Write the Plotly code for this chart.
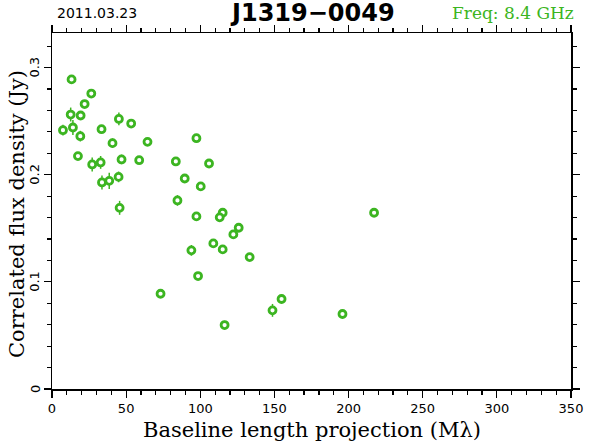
import plotly.graph_objects as go

green = "#3cb521"

baseline = [13.2, 26.5, 22.0, 12.6, 19.3, 7.4, 14.1, 19.1, 33.4, 45.1, 40.8, 53.4,
            17.5, 27.1, 32.8, 46.9, 33.7, 38.6, 44.9, 45.6, 64.4, 97.4, 58.8, 83.5,
            89.5, 100.3, 105.9, 84.6, 97.4, 115.1, 113.1, 125.9, 122.3, 108.8, 94.0,
            115.1, 133.3, 98.5, 73.2, 116.4, 217.2, 154.8, 148.7, 195.9]
flux = [0.289, 0.2758, 0.266, 0.2562, 0.2553, 0.2416, 0.2441, 0.236, 0.2425, 0.2521,
        0.2295, 0.2478, 0.2174, 0.2096, 0.2115, 0.2143, 0.1928, 0.1943, 0.198, 0.1691,
        0.2307, 0.2341, 0.2136, 0.2124, 0.1965, 0.1891, 0.2105, 0.176, 0.1611, 0.1645,
        0.1602, 0.1505, 0.1443, 0.1359, 0.1294, 0.1303, 0.1231, 0.1054, 0.0889, 0.0597,
        0.1645, 0.0840, 0.0734, 0.070]
flux_err = [0.003, 0.003, 0.003, 0.0065, 0.004, 0.005, 0.007, 0.005, 0.003, 0.006,
            0.0045, 0.003, 0.003, 0.0065, 0.006, 0.0045, 0.0065, 0.0075, 0.005, 0.0065,
            0.003, 0.004, 0.003, 0.003, 0.003, 0.003, 0.004, 0.005, 0.004, 0.004,
            0.003, 0.003, 0.004, 0.003, 0.005, 0.003, 0.003, 0.003, 0.003, 0.004,
            0.004, 0.004, 0.006, 0.004]

x_ticks = [0, 50, 100, 150, 200, 250, 300, 350]
y_ticks = [0, 0.1, 0.2, 0.3]
y_tick_labels = ["0", "0.1", "0.2", "0.3"]

W, H = 590, 443
ML, MR, MT, MB = 52, 19, 33, 54
PW, PH = W - ML - MR, H - MT - MB


def px_x(p):
    return (p - ML) / PW


def px_y(p):
    return (H - MB - p) / PH


fig = go.Figure()
fig.add_trace(go.Scatter(
    x=baseline, y=flux, mode="markers",
    marker=dict(symbol="circle", size=7, color="white", line=dict(width=2.8, color=green)),
    error_y=dict(type="data", array=flux_err, visible=True, color=green, thickness=1.5, width=0),
    showlegend=False, hoverinfo="skip",
))

serif = "DejaVu Serif, serif"
sans = "DejaVu Sans, sans-serif"
axis_common = dict(showgrid=False, zeroline=False, showline=True, linecolor="black", linewidth=1.5,
                   mirror="allticks", ticks="outside", ticklen=7, tickwidth=1.2, tickcolor="black",
                   automargin=False,
                   tickfont=dict(family=sans, size=13, color="black"))

annotations = [
    dict(text="Baseline length projection (M\u03bb)", x=px_x(312), y=px_y(430), xanchor="center", yanchor="middle",
         xref="paper", yref="paper", showarrow=False,
         font=dict(family=serif, size=21, color="black")),
    dict(text="Correlated flux density (Jy)", x=px_x(17), y=px_y(214), xanchor="center", yanchor="middle",
         textangle=-90, xref="paper", yref="paper", showarrow=False,
         font=dict(family=serif, size=21, color="black")),
    dict(text="2011.03.23", x=px_x(55), y=px_y(13), xanchor="left", yanchor="middle",
         xref="paper", yref="paper", showarrow=False,
         font=dict(family=sans, size=14, color="black")),
    dict(text="<b>J1319\u22120049</b>", x=px_x(312), y=px_y(13), xanchor="center", yanchor="middle",
         xref="paper", yref="paper", showarrow=False,
         font=dict(family=sans, size=24, color="black")),
    dict(text="Freq: 8.4 GHz", x=px_x(576), y=px_y(13), xanchor="right", yanchor="middle",
         xref="paper", yref="paper", showarrow=False,
         font=dict(family=serif, size=17, color=green)),
]
# rotated y tick labels placed on the y scale
for v, t in zip(y_ticks, y_tick_labels):
    annotations.append(dict(text=t, x=px_x(35), y=v, xref="paper", yref="y", xanchor="center",
                            yanchor="middle", textangle=-90, showarrow=False,
                            font=dict(family=sans, size=13, color="black")))

fig.update_layout(
    width=W, height=H,
    margin=dict(l=ML, r=MR, t=MT, b=MB),
    paper_bgcolor="white", plot_bgcolor="white",
    xaxis=dict(range=[0, 350], tickvals=x_ticks, ticktext=[str(v) for v in x_ticks],
               minor=dict(dtick=10, ticklen=4, ticks="outside", tickcolor="black", tickwidth=1.2),
               **axis_common),
    yaxis=dict(range=[0, 0.3323], tickvals=y_ticks, showticklabels=False,
               minor=dict(dtick=0.02, ticklen=4, ticks="outside", tickcolor="black", tickwidth=1.2),
               **axis_common),
    annotations=annotations,
    hovermode=False,
)

fig.write_html("out.html", config={"displayModeBar": False, "staticPlot": True},
               post_script="document.body.style.margin='0px';")
